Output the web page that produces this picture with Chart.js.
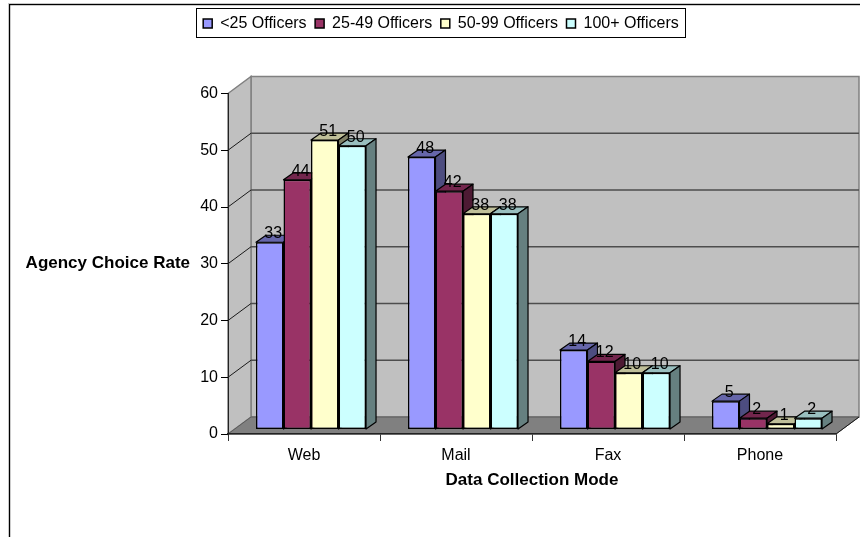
<!DOCTYPE html>
<html>
<head>
<meta charset="utf-8">
<title>Agency Choice Rate by Data Collection Mode</title>
<script src="https://cdn.jsdelivr.net/npm/chart.js@4/dist/chart.umd.min.js"></script>
<style>
  html, body { margin: 0; padding: 0; background: #fff; }
  #wrap { width: 860px; height: 537px; position: relative; }
</style>
</head>
<body>
<div id="wrap"><canvas id="chart" width="860" height="537"></canvas></div>
<script>
// Chart values
const categories = ['Web', 'Mail', 'Fax', 'Phone'];
const under25 = [33, 48, 14, 5];
const from25to49 = [44, 42, 12, 2];
const from50to99 = [51, 38, 10, 1];
const over100 = [50, 38, 10, 2];
const seriesNames = ['<25 Officers', '25-49 Officers', '50-99 Officers', '100+ Officers'];
const frontColors = ['#9999FF', '#993366', '#FFFFCC', '#CCFFFF'];
const topColors = ['#6666AA', '#73264D', '#BFBF99', '#99BFBF'];
const sideColors = ['#4D4D80', '#4D1A33', '#808066', '#668080'];
const yMax = 60;
const yStep = 10;

// Pseudo-3D geometry, in pixels
const WALL_DX = 23, WALL_DY = -17;   // depth of the plot box
const BAR_DX = 10, BAR_DY = -7;      // depth of one bar
const SHIFT_X = 7, SHIFT_Y = -4.5;   // bars sit part-way into the floor
const FONT = '"Liberation Sans", Arial, sans-serif';

function poly(ctx, pts, fill, stroke, width) {
  ctx.beginPath();
  pts.forEach((p, i) => i ? ctx.lineTo(p[0], p[1]) : ctx.moveTo(p[0], p[1]));
  ctx.closePath();
  if (fill) { ctx.fillStyle = fill; ctx.fill(); }
  if (stroke) { ctx.strokeStyle = stroke; ctx.lineWidth = width; ctx.stroke(); }
}

const box3d = {
  id: 'box3d',
  afterLayout(chart) {
    // Legend floats near the top, independent of the plot's position
    const lg = chart.legend;
    const h = lg.height;
    lg.top = 7;
    lg.bottom = 7 + h;
  },
  beforeDraw(chart) {
    const { ctx, chartArea: a, scales: { y } } = chart;
    ctx.save();
    // Frame around the whole figure
    ctx.fillStyle = '#c8c8c8';
    ctx.fillRect(8, 3, 852, 1);
    ctx.fillRect(8, 3, 1, 534);
    ctx.fillStyle = '#000';
    ctx.fillRect(9, 4, 851, 1.2);
    ctx.fillRect(9, 4, 1.2, 533);

    const L = a.left, R = a.right, T = a.top, B = a.bottom;
    const dx = WALL_DX, dy = WALL_DY;
    // Back wall, side wall and floor
    poly(ctx, [[L + dx, T + dy], [R + dx, T + dy], [R + dx, B + dy], [L + dx, B + dy]], '#C0C0C0', '#808080', 1.5);
    poly(ctx, [[L, T], [L + dx, T + dy], [L + dx, B + dy], [L, B]], '#C0C0C0', '#808080', 1.5);
    // Gridlines run along the side wall and across the back wall
    y.ticks.forEach(t => {
      const py = y.getPixelForValue(t.value);
      if (t.value > 0 && t.value < yMax) {
        ctx.strokeStyle = '#1a1a1a';
        ctx.lineWidth = 1;
        ctx.beginPath(); ctx.moveTo(L, py); ctx.lineTo(L + dx, py + dy); ctx.stroke();
        ctx.strokeStyle = '#4d4d4d';
        ctx.lineWidth = 1.3;
        ctx.beginPath(); ctx.moveTo(L + dx, py + dy); ctx.lineTo(R + dx, py + dy); ctx.stroke();
      }
    });
    poly(ctx, [[L, B], [L + dx, B + dy], [R + dx, B + dy], [R, B]], '#808080', '#5a5a5a', 1);
    ctx.strokeStyle = '#1a1a1a';
    ctx.lineWidth = 1;
    ctx.beginPath(); ctx.moveTo(R, B); ctx.lineTo(R + dx, B + dy); ctx.stroke();
    ctx.restore();
  },
  beforeDatasetsDraw(chart) {
    // Paint the series left to right so each bar covers its neighbour's side face
    const { ctx } = chart;
    ctx.save();
    ctx.translate(SHIFT_X, SHIFT_Y);
    chart.getSortedVisibleDatasetMetas().forEach(meta => {
      const i = meta.index;
      meta.data.forEach(bar => {
        const l = bar.x - bar.width / 2, r = bar.x + bar.width / 2;
        const t = bar.y, b = bar.base;
        ctx.lineJoin = 'round';
        poly(ctx, [[l, t], [l + BAR_DX, t + BAR_DY], [r + BAR_DX, t + BAR_DY], [r, t]], topColors[i], '#000', 1.2);
        poly(ctx, [[r, t], [r + BAR_DX, t + BAR_DY], [r + BAR_DX, b + BAR_DY], [r, b]], sideColors[i], '#000', 1.2);
      });
      meta.controller.draw();
    });
    ctx.restore();

    // Value labels sit over the bar tops
    ctx.save();
    ctx.font = '16px ' + FONT;
    ctx.fillStyle = '#000';
    ctx.textAlign = 'center';
    ctx.textBaseline = 'middle';
    chart.data.datasets.forEach((ds, i) => {
      chart.getDatasetMeta(i).data.forEach((bar, j) => {
        ctx.fillText(String(ds.data[j]), bar.x + SHIFT_X + 3.5, bar.y + SHIFT_Y - 8.5);
      });
    });
    ctx.restore();
    return false;
  },
  afterDraw(chart) {
    const { ctx, chartArea: a, legend } = chart;
    ctx.save();
    // Vertical axis caption, set horizontally beside the ticks
    ctx.font = 'bold 17px ' + FONT;
    ctx.fillStyle = '#000';
    ctx.textAlign = 'right';
    ctx.textBaseline = 'middle';
    ctx.fillText('Agency Choice Rate', 190, (a.top + a.bottom) / 2);
    // Legend frame
    const boxes = legend.legendHitBoxes;
    const first = boxes[0], last = boxes[boxes.length - 1];
    const x0 = first.left - 6, x1 = last.left + last.width + 6;
    ctx.strokeStyle = '#000';
    ctx.lineWidth = 1;
    ctx.strokeRect(Math.round(x0) - 0.5, 8.5, Math.round(x1 - x0) + 1, 29);
    ctx.restore();
  }
};

const seriesValues = [under25, from25to49, from50to99, over100];

new Chart(document.getElementById('chart'), {
  type: 'bar',
  data: {
    labels: categories,
    datasets: seriesValues.map((values, i) => ({
      label: seriesNames[i],
      data: values,
      backgroundColor: frontColors[i],
      borderColor: '#000',
      borderWidth: 1.5,
      borderSkipped: false,
      categoryPercentage: 0.724,
      barPercentage: 1
    }))
  },
  options: {
    responsive: false,
    animation: false,
    layout: { padding: { left: 46, right: 24, top: 59, bottom: 43 } },
    plugins: {
      tooltip: { enabled: false },
      title: { display: false },
      legend: {
        display: true,
        position: 'top',
        align: 'center',
        labels: {
          boxWidth: 9,
          boxHeight: 9,
          padding: 8.5,
          color: '#000',
          font: { family: FONT, size: 16 }
        }
      }
    },
    scales: {
      x: {
        type: 'category',
        afterFit: s => { s.height = 60; },
        grid: { display: true, drawOnChartArea: false, drawTicks: true, tickLength: 7, color: '#333', offset: true },
        border: { display: true, color: '#222', width: 1.5 },
        ticks: { color: '#000', font: { family: FONT, size: 16 }, padding: 5, maxRotation: 0 },
        title: {
          display: true,
          text: 'Data Collection Mode',
          color: '#000',
          font: { family: FONT, size: 17, weight: 'bold' },
          padding: { top: 4, bottom: 3 }
        }
      },
      y: {
        type: 'linear',
        min: 0,
        max: yMax,
        afterFit: s => { s.width = 182; },
        grid: { display: true, drawOnChartArea: false, drawTicks: true, tickLength: 7, color: '#000' },
        border: { display: true, color: '#222', width: 1 },
        ticks: { stepSize: yStep, color: '#000', font: { family: FONT, size: 16 }, padding: 3 }
      }
    }
  },
  plugins: [box3d]
});
</script>
</body>
</html>
